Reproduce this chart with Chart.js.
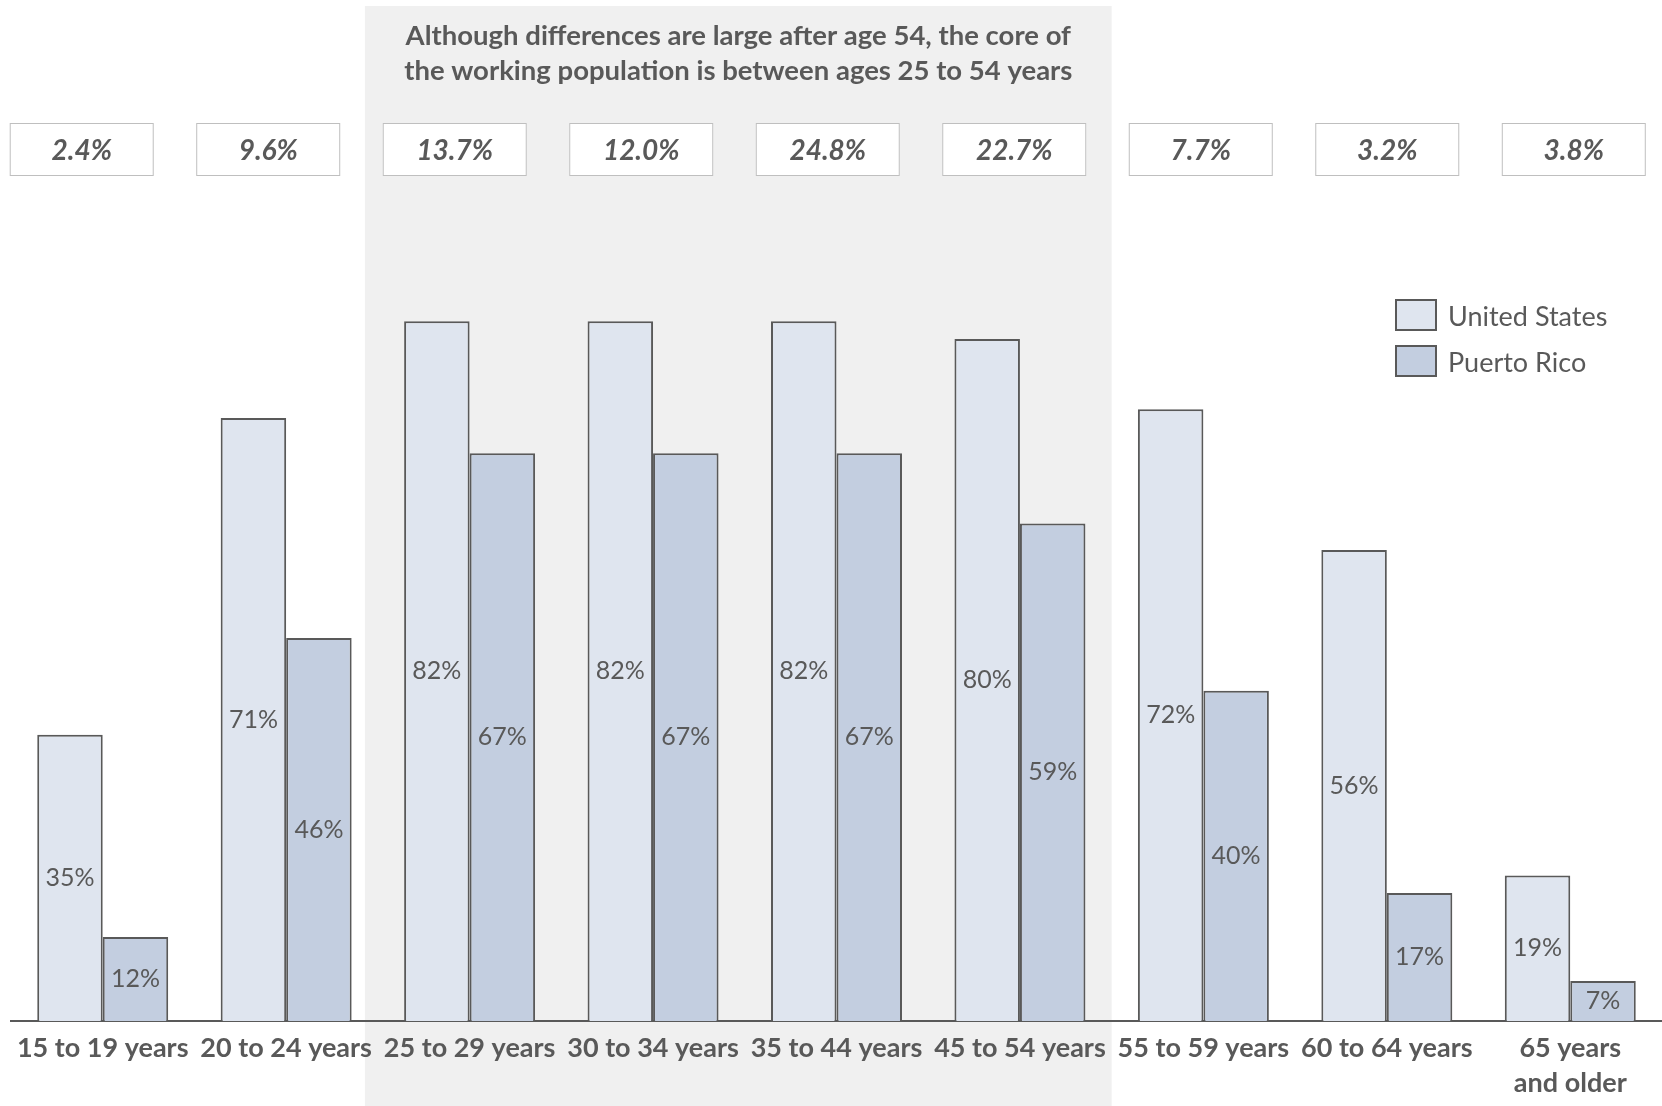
<!DOCTYPE html>
<html>
<head>
<meta charset="utf-8">
<script src="https://cdn.jsdelivr.net/npm/chart.js@4.4.0/dist/chart.umd.min.js"></script>
<style>
    html, body { margin: 0; padding: 0; background: #ffffff; }
    #wrap { width: 1662px; height: 1106px; }
</style>
</head>
<body>
<div id="wrap"><canvas id="laborChart" width="1662" height="1106"></canvas></div>
<script>
// Dados do gráfico
const categories = ['15 to 19 years', '20 to 24 years', '25 to 29 years', '30 to 34 years',
    '35 to 44 years', '45 to 54 years', '55 to 59 years', '60 to 64 years', ['65 years', 'and older']];
const usValues = [35, 71, 82, 82, 82, 80, 72, 56, 19];
const prValues = [12, 46, 67, 67, 67, 59, 40, 17, 7];
const shareLabels = ['2.4%', '9.6%', '13.7%', '12.0%', '24.8%', '22.7%', '7.7%', '3.2%', '3.8%'];
const seriesNames = ['United States', 'Puerto Rico'];
const noteLines = ['Although differences are large after age 54, the core of',
    'the working population is between ages 25 to 54 years'];
const bandFrom = 2; // 25 to 29 years
const bandTo = 5;   // 45 to 54 years

const TEXT = '#595959';
const FONT = 'Lato, "Open Sans", sans-serif';

// Faixa cinza + nota + caixas de percentuais (desenhados antes das barras)
const backdropPlugin = {
    id: 'backdrop',
    beforeDraw(chart) {
        const ctx = chart.ctx;
        const x = chart.scales.x;
        const step = x.getPixelForValue(1) - x.getPixelForValue(0);
        const left = x.getPixelForValue(bandFrom) - step / 2 - 13;
        const right = x.getPixelForValue(bandTo) + step / 2;
        ctx.save();
        ctx.fillStyle = '#f0f0f0';
        ctx.fillRect(left, 6, right - left, chart.height - 6);

        ctx.fillStyle = TEXT;
        ctx.font = 'bold 27.5px ' + FONT;
        ctx.textAlign = 'center';
        ctx.textBaseline = 'middle';
        noteLines.forEach((line, i) => ctx.fillText(line, (left + right) / 2, 36 + i * 35));

        // caixas com a participação de cada grupo
        const first = x.getPixelForValue(0) - 21;
        const last = x.getPixelForValue(categories.length - 1) + 3.5;
        const gap = (last - first) / (categories.length - 1);
        shareLabels.forEach((txt, i) => {
            const cx = first + i * gap;
            ctx.fillStyle = '#ffffff';
            ctx.fillRect(cx - 72, 123, 144, 53);
            ctx.strokeStyle = '#bfbfbf';
            ctx.lineWidth = 1;
            ctx.strokeRect(cx - 71.5, 123.5, 143, 52);
            ctx.fillStyle = TEXT;
            ctx.font = 'italic bold 28px ' + FONT;
            ctx.fillText(txt, cx, 151);
        });
        ctx.restore();
    }
};

// Rótulos de valor dentro das barras + legenda
const labelsPlugin = {
    id: 'barLabels',
    afterDatasetsDraw(chart) {
        const ctx = chart.ctx;
        const bottom = chart.chartArea.bottom;
        ctx.save();
        ctx.fillStyle = TEXT;
        ctx.font = '25px ' + FONT;
        ctx.textAlign = 'center';
        ctx.textBaseline = 'middle';
        chart.data.datasets.forEach((ds, di) => {
            chart.getDatasetMeta(di).data.forEach((bar, i) => {
                ctx.fillText(ds.data[i] + '%', bar.x, (bar.y + bottom) / 2);
            });
        });

        // legenda
        ctx.textAlign = 'left';
        ctx.font = '27px ' + FONT;
        chart.data.datasets.forEach((ds, di) => {
            const y = 300 + di * 46;
            ctx.fillStyle = ds.backgroundColor;
            ctx.fillRect(1396, y, 40, 30);
            ctx.strokeStyle = ds.borderColor;
            ctx.lineWidth = 2;
            ctx.strokeRect(1396, y, 40, 30);
            ctx.fillStyle = TEXT;
            ctx.fillText(ds.label, 1448, y + 17);
        });
        ctx.restore();
    }
};

const ctx = document.getElementById('laborChart').getContext('2d');
const laborChart = new Chart(ctx, {
    type: 'bar',
    data: {
        labels: categories,
        datasets: [{
            label: seriesNames[0],
            data: usValues,
            backgroundColor: '#dfe5ef',
            borderColor: '#595959',
            borderWidth: 2,
            categoryPercentage: 0.714,
            barPercentage: 1.0
        }, {
            label: seriesNames[1],
            data: prValues,
            backgroundColor: '#c3cee0',
            borderColor: '#595959',
            borderWidth: 2,
            categoryPercentage: 0.714,
            barPercentage: 1.0
        }]
    },
    options: {
        responsive: false,
        animation: false,
        devicePixelRatio: 1,
        layout: { padding: { top: 163, left: 11, right: 0, bottom: 0 } },
        scales: {
            x: {
                grid: { display: false, drawTicks: false },
                border: { display: true, color: '#595959', width: 2 },
                ticks: {
                    color: TEXT,
                    font: { family: FONT, size: 27, weight: 'bold', lineHeight: 1.3 },
                    padding: 10,
                    maxRotation: 0,
                    autoSkip: false
                },
                afterFit(scale) { scale.height = 85; }
            },
            y: {
                display: false,
                min: 2.45,
                max: 100
            }
        },
        plugins: {
            legend: { display: false },
            tooltip: { enabled: false }
        }
    },
    plugins: [backdropPlugin, labelsPlugin]
});
</script>
</body>
</html>
